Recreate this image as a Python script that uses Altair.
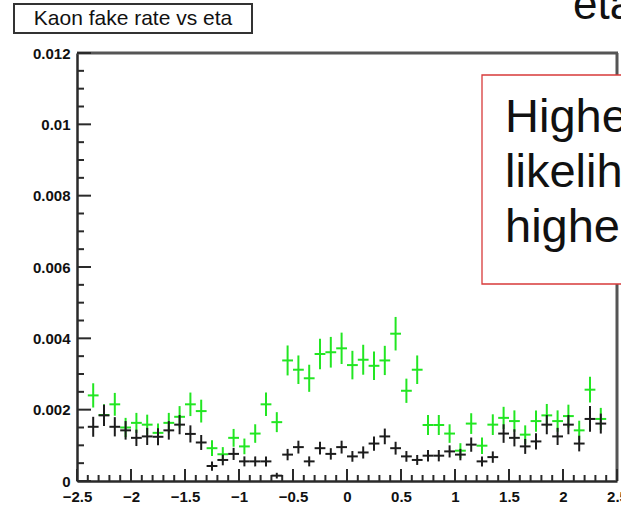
import altair as alt
import pandas as pd

# Bin centres in eta (bins of width 0.1, outermost bins empty)
eta = [-2.35, -2.25, -2.15, -2.05, -1.95, -1.85, -1.75, -1.65, -1.55, -1.45,
       -1.35, -1.25, -1.15, -1.05, -0.95, -0.85, -0.75, -0.65, -0.55, -0.45,
       -0.35, -0.25, -0.15, -0.05, 0.05, 0.15, 0.25, 0.35, 0.45, 0.55,
       0.65, 0.75, 0.85, 0.95, 1.05, 1.15, 1.25, 1.35, 1.45, 1.55,
       1.65, 1.75, 1.85, 1.95, 2.05, 2.15, 2.25, 2.35]

# Fake rate, looser selection (green)
rate_green = [0.0024, 0.00185, 0.00215, 0.0015, 0.00163, 0.00158, 0.00135, 0.00163, 0.0018, 0.00215,
              0.00196, 0.00092, 0.00075, 0.00121, 0.00097, 0.00133, 0.00215, 0.00165, 0.00338, 0.00312,
              0.00288, 0.00356, 0.00361, 0.00372, 0.00325, 0.0034, 0.00323, 0.00338, 0.00413, 0.00253,
              0.00312, 0.00157, 0.00157, 0.00133, 0.00085, 0.00161, 0.00099, 0.00158, 0.00177, 0.00168,
              0.0013, 0.00168, 0.00184, 0.00168, 0.00182, 0.00142, 0.00256, 0.00174]
err_green = [0.00034, 0.0003, 0.00032, 0.00027, 0.00028, 0.00028, 0.00026, 0.00028, 0.0003, 0.00033,
             0.00032, 0.00022, 0.0002, 0.00025, 0.00022, 0.00026, 0.00033, 0.00028, 0.00042, 0.0004,
             0.00038, 0.00043, 0.00043, 0.00044, 0.0004, 0.00042, 0.0004, 0.00041, 0.00047, 0.00034,
             0.0004, 0.00028, 0.00028, 0.00026, 0.00021, 0.00029, 0.00023, 0.00029, 0.00031, 0.0003,
             0.00026, 0.0003, 0.00032, 0.0003, 0.00032, 0.00027, 0.00036, 0.00031]

# Fake rate, tighter selection (black)
rate_black = [0.00152, 0.00184, 0.00152, 0.00142, 0.00121, 0.00125, 0.00124, 0.00142, 0.00158, 0.00132,
              0.00108, 0.00042, 0.00059, 0.00076, 0.00055, 0.00055, 0.00055, 0.00015, 0.00074, 0.00095,
              0.00055, 0.00092, 0.00076, 0.00095, 0.00069, 0.0008, 0.00105, 0.00125, 0.00092, 0.00069,
              0.00059, 0.00071, 0.00071, 0.00083, 0.00074, 0.00102, 0.00055, 0.00067, 0.00133, 0.00121,
              0.00097, 0.00111, 0.00158, 0.00125, 0.00158, 0.00105, 0.00174, 0.00161]
err_black = [0.00028, 0.0003, 0.00027, 0.00026, 0.00023, 0.00024, 0.00024, 0.00026, 0.00027, 0.00024,
             0.00021, 0.00013, 0.00015, 0.00017, 0.00014, 0.00014, 0.00014, 0.00008, 0.00016, 0.00018,
             0.00014, 0.00018, 0.00016, 0.00018, 0.00015, 0.00017, 0.0002, 0.00022, 0.00018, 0.00015,
             0.00014, 0.00016, 0.00016, 0.00017, 0.00016, 0.0002, 0.00014, 0.00016, 0.00026, 0.00024,
             0.00021, 0.00023, 0.00027, 0.00024, 0.00027, 0.00022, 0.00036, 0.00028]

# Axis tick positions
x_major = [-2.5, -2.0, -1.5, -1.0, -0.5, 0.0, 0.5, 1.0, 1.5, 2.0, 2.5]
x_minor = [-2.4, -2.3, -2.2, -2.1, -1.9, -1.8, -1.7, -1.6, -1.4, -1.3, -1.2, -1.1,
           -0.9, -0.8, -0.7, -0.6, -0.4, -0.3, -0.2, -0.1, 0.1, 0.2, 0.3, 0.4,
           0.6, 0.7, 0.8, 0.9, 1.1, 1.2, 1.3, 1.4, 1.6, 1.7, 1.8, 1.9,
           2.1, 2.2, 2.3, 2.4]
y_major = [0.0, 0.002, 0.004, 0.006, 0.008, 0.010, 0.012]
y_minor = [0.0005, 0.001, 0.0015, 0.0025, 0.003, 0.0035, 0.0045, 0.005, 0.0055,
           0.0065, 0.007, 0.0075, 0.0085, 0.009, 0.0095, 0.0105, 0.011, 0.0115]

W, H = 540, 428
FONT = "Liberation Sans"
AXIS_COLOR = "#2a2a2a"
FRAME_COLOR = "#555555"

xs = alt.Scale(domain=[-2.5, 2.5], nice=False, zero=False)
ys = alt.Scale(domain=[0, 0.012], nice=False, zero=False)

# Shared axis definitions (inward ticks are drawn as separate rules)
x_axis = alt.Axis(values=x_major, format="~g", ticks=False, grid=False,
                  domainColor=AXIS_COLOR, domainWidth=2.5,
                  labelFont=FONT, labelFontWeight="bold", labelFontSize=15,
                  labelColor="#111", labelPadding=8, labelFlush=False)
y_axis = alt.Axis(values=y_major, format=".3~f", ticks=False, grid=False,
                  domainColor=AXIS_COLOR, domainWidth=2.5,
                  labelFont=FONT, labelFontWeight="bold", labelFontSize=15,
                  labelColor="#111", labelPadding=7, labelFlush=False)


def X(field):
    return alt.X(field, scale=xs, axis=x_axis, title=None)


def Y(field):
    return alt.Y(field, scale=ys, axis=y_axis, title=None)


one = pd.DataFrame({"k": [0]})


def errors(rate, err, color):
    df = pd.DataFrame({"eta": eta, "rate": rate, "err": err})
    base = alt.Chart(df).transform_calculate(
        lo="datum.rate - datum.err",
        hi="datum.rate + datum.err",
        xl="datum.eta - 0.05",
        xr="datum.eta + 0.05",
    )
    vert = base.mark_rule(color=color, strokeWidth=2).encode(
        x=X("eta:Q"), y=Y("lo:Q"), y2="hi:Q")
    horiz = base.mark_rule(color=color, strokeWidth=2).encode(
        x=X("xl:Q"), x2="xr:Q", y=Y("rate:Q"))
    return vert + horiz


x_major_ticks = alt.Chart(pd.DataFrame({"t": x_major})).mark_rule(
    color=AXIS_COLOR, strokeWidth=2).encode(
    x=X("t:Q"), y=alt.value(H), y2=alt.value(H - 12))
x_minor_ticks = alt.Chart(pd.DataFrame({"t": x_minor})).mark_rule(
    color=AXIS_COLOR, strokeWidth=2).encode(
    x=X("t:Q"), y=alt.value(H), y2=alt.value(H - 6))
y_major_ticks = alt.Chart(pd.DataFrame({"t": y_major})).mark_rule(
    color=AXIS_COLOR, strokeWidth=2).encode(
    y=Y("t:Q"), x=alt.value(0), x2=alt.value(14))
y_minor_ticks = alt.Chart(pd.DataFrame({"t": y_minor})).mark_rule(
    color=AXIS_COLOR, strokeWidth=2).encode(
    y=Y("t:Q"), x=alt.value(0), x2=alt.value(7))

# Top and right edges of the histogram frame
frame_top = alt.Chart(one).mark_rule(color=FRAME_COLOR, strokeWidth=3, opacity=1).encode(
    x=alt.value(0), x2=alt.value(W + 1), y=alt.value(0))
frame_right = alt.Chart(one).mark_rule(color=FRAME_COLOR, strokeWidth=3, opacity=1).encode(
    x=alt.value(W), y=alt.value(0), y2=alt.value(H))

# Histogram title box
title_box = alt.Chart(one).mark_rect(fill="white", stroke="#333", strokeWidth=2).encode(
    x=alt.value(-63), x2=alt.value(175), y=alt.value(-49), y2=alt.value(-20))
title_text = alt.Chart(one).mark_text(
    font=FONT, fontSize=21, color="#111", align="center", baseline="middle").encode(
    x=alt.value(56), y=alt.value(-34), text=alt.value("Kaon fake rate vs eta"))

# Slide heading and annotation box
heading = alt.Chart(one).mark_text(
    font=FONT, fontSize=44, color="#111", align="left", baseline="alphabetic").encode(
    x=alt.value(496), y=alt.value(-34), text=alt.value("eta"))
note_box = alt.Chart(one).mark_rect(fill="white", stroke="#d83a3a", strokeWidth=1.3).encode(
    x=alt.value(405), x2=alt.value(720), y=alt.value(22), y2=alt.value(231))
note_text = alt.Chart(one).mark_text(
    font=FONT, fontSize=47, color="#111", align="left", baseline="alphabetic",
    lineHeight=55).encode(
    x=alt.value(428), y=alt.value(79),
    text=alt.value(["Higher", "likelihood", "higher"]))

chart = alt.layer(
    frame_top, frame_right,
    x_minor_ticks, x_major_ticks, y_minor_ticks, y_major_ticks,
    errors(rate_green, err_green, "#22e622"),
    errors(rate_black, err_black, "#1c1c1c"),
    note_box, note_text, title_box, title_text, heading,
).properties(
    width=W, height=H,
    autosize=alt.AutoSizeParams(type="none"),
    padding={"left": 77, "top": 53, "right": 4, "bottom": 25},
).configure_view(
    strokeWidth=0
).configure(background="white")

chart.save("out.html", embed_options={"renderer": "svg", "actions": False})
